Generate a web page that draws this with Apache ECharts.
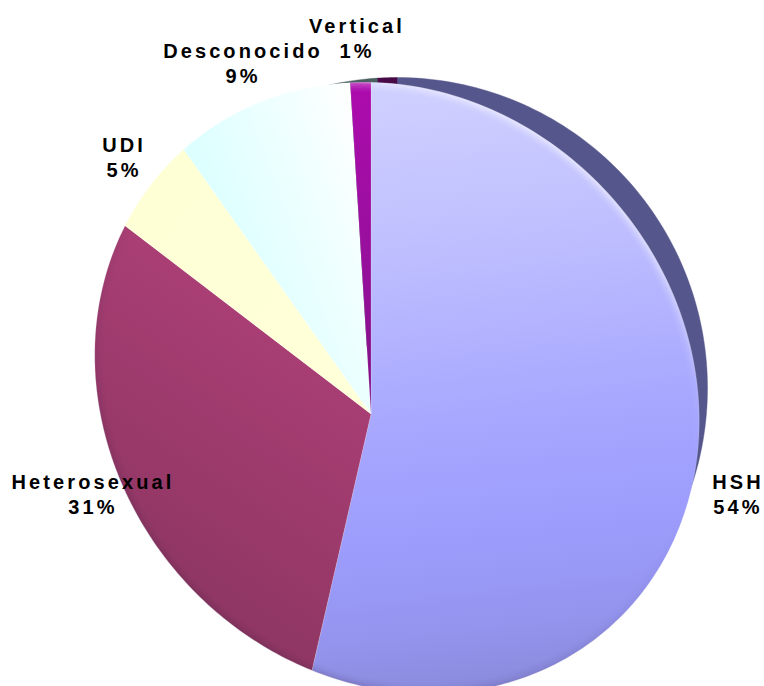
<!DOCTYPE html>
<html><head><meta charset="utf-8">
<style>html,body{margin:0;padding:0;background:#fff}#c{width:764px;height:686px}
#c svg text{letter-spacing:3.1px}</style>
<script src="https://cdn.jsdelivr.net/npm/echarts@6/dist/echarts.min.js"></script>
</head><body><div id="c"></div>
<script>
const categories = ['HSH','Heterosexual','UDI','Desconocido','Vertical'];
const percentLabels = [54,31,5,9,1];
// angular share of each slice
const shares = [53.6,31.8,4.8,8.8,1.0];
const sideColors = ['#55578c','#5a1a40','#6a6a50','#4a5f5f','#470a47'];
const labelAnchors = [[738,494],[93,494],[124,157],[243,63],[357,38]];

const apex = [371,414], centre = [397,388], major = 320, minor = 287, tilt = 48*Math.PI/180;
const sideRadius = 310.5, sideEndFraction = 0.32, sideStartFraction = 0.9;
const total = shares.reduce((a,b)=>a+b,0);
const starts = shares.map((v,i)=>shares.slice(0,i).reduce((a,b)=>a+b,0));

function global(x,y,x2,y2,stops){
  return {type:'linear',global:true,x,y,x2,y2,colorStops:stops.map(s=>({offset:s[0],color:s[1]}))};
}
const fills = [
  global(400,84,470,690,[[0,'#d0d0ff'],[.25,'#c0c0ff'],[.55,'#a8a8ff'],[.75,'#9c9cfd'],[.9,'#9494ee'],[1,'#8a8adc']]),
  global(370,340,170,640,[[0,'#ad4077'],[.5,'#9c3a6c'],[1,'#8a3560']]),
  global(130,220,370,410,[[0,'#ffffd6'],[1,'#ffffd9']]),
  global(190,150,350,90,[[0,'#dcffff'],[.6,'#f0ffff'],[1,'#ffffff']]),
  global(360,84,365,414,[[0,'#ad0bad'],[.6,'#94109a'],[1,'#7e0f80']])
];
const rimShade = global(540,120,170,640,[[0,'rgba(255,255,255,.9)'],[.1,'rgba(255,255,255,.6)'],[.2,'rgba(255,255,255,.1)'],[.3,'rgba(255,255,255,0)'],[.45,'rgba(30,20,60,.04)'],[1,'rgba(40,20,50,.3)']]);

function rim(frac,scale){
  const a = frac*2*Math.PI, d=[Math.sin(a),-Math.cos(a)];
  const c=Math.cos(tilt), s=Math.sin(tilt), M=major*scale, N=minor*scale;
  const ox=apex[0]-centre[0], oy=apex[1]-centre[1];
  const px=(ox*c+oy*s)/M, py=(-ox*s+oy*c)/N;
  const qx=(d[0]*c+d[1]*s)/M, qy=(-d[0]*s+d[1]*c)/N;
  const A=qx*qx+qy*qy, B=2*(px*qx+py*qy), C=px*px+py*py-1;
  const t=(-B+Math.sqrt(B*B-4*A*C))/(2*A);
  return [apex[0]+d[0]*t, apex[1]+d[1]*t];
}
function arcPoints(i,scale){
  const n=Math.max(6,Math.round(shares[i]*3)), pts=[];
  for(let k=0;k<=n;k++) pts.push(rim((starts[i]+shares[i]*k/n)/total,scale));
  return pts;
}
function sidePoints(i){
  let from=starts[i]/total, to=(starts[i]+shares[i])/total;
  if(from<sideEndFraction) to=Math.min(to,sideEndFraction);
  else if(to>sideStartFraction) from=Math.max(from,sideStartFraction);
  else return null;
  const n=Math.max(6,Math.round((to-from)*300)), pts=[centre];
  for(let k=0;k<=n;k++){
    const a=(from+(to-from)*k/n)*2*Math.PI;
    pts.push([centre[0]+Math.sin(a)*sideRadius,centre[1]-Math.cos(a)*sideRadius]);
  }
  return pts;
}
const chart = echarts.init(document.getElementById('c'),null,{renderer:'svg'});
chart.setOption({
  animation:false,
  series:[
    {type:'custom',coordinateSystem:'none',silent:true,clip:false,z:1,
     data:shares.map((v,i)=>[i,v]),
     renderItem(p,api){
       const i=api.value(0), pts=sidePoints(i);
       if(!pts) return null;
       return {type:'polygon',shape:{points:pts},
         style:{fill:sideColors[i],stroke:sideColors[i],lineWidth:.4}};
     }},
    {type:'custom',coordinateSystem:'none',silent:true,clip:false,z:2,
     data:shares.map((v,i)=>[i,v]),
     renderItem(p,api){
       const i=api.value(0);
       const a=labelAnchors[i];
       const pts=[apex].concat(arcPoints(i,1));
       const glow=[[.998,2,.55],[.992,2,.38],[.986,2,.25],[.98,2,.14],[.974,2,.07]].map(g=>({
         type:'polyline',shape:{points:arcPoints(i,g[0])},
         style:{fill:'none',stroke:rimShade,lineWidth:g[1],opacity:g[2]}}));
       return {type:'group',children:[
         {type:'polygon',shape:{points:pts},style:{fill:fills[i],stroke:'rgba(255,255,255,.25)',lineWidth:.6}}
       ].concat(i===2||i===3?[]:glow).concat([
         {type:'text',z2:10,style:{x:a[0],y:a[1],text:categories[i]+'\n'+percentLabels[i]+'%',
           align:'center',verticalAlign:'middle',fill:'#000',
           font:'bold 20px "Liberation Sans", Arial, sans-serif',lineHeight:25}}
       ])};
     }}
  ]
});
</script></body></html>
